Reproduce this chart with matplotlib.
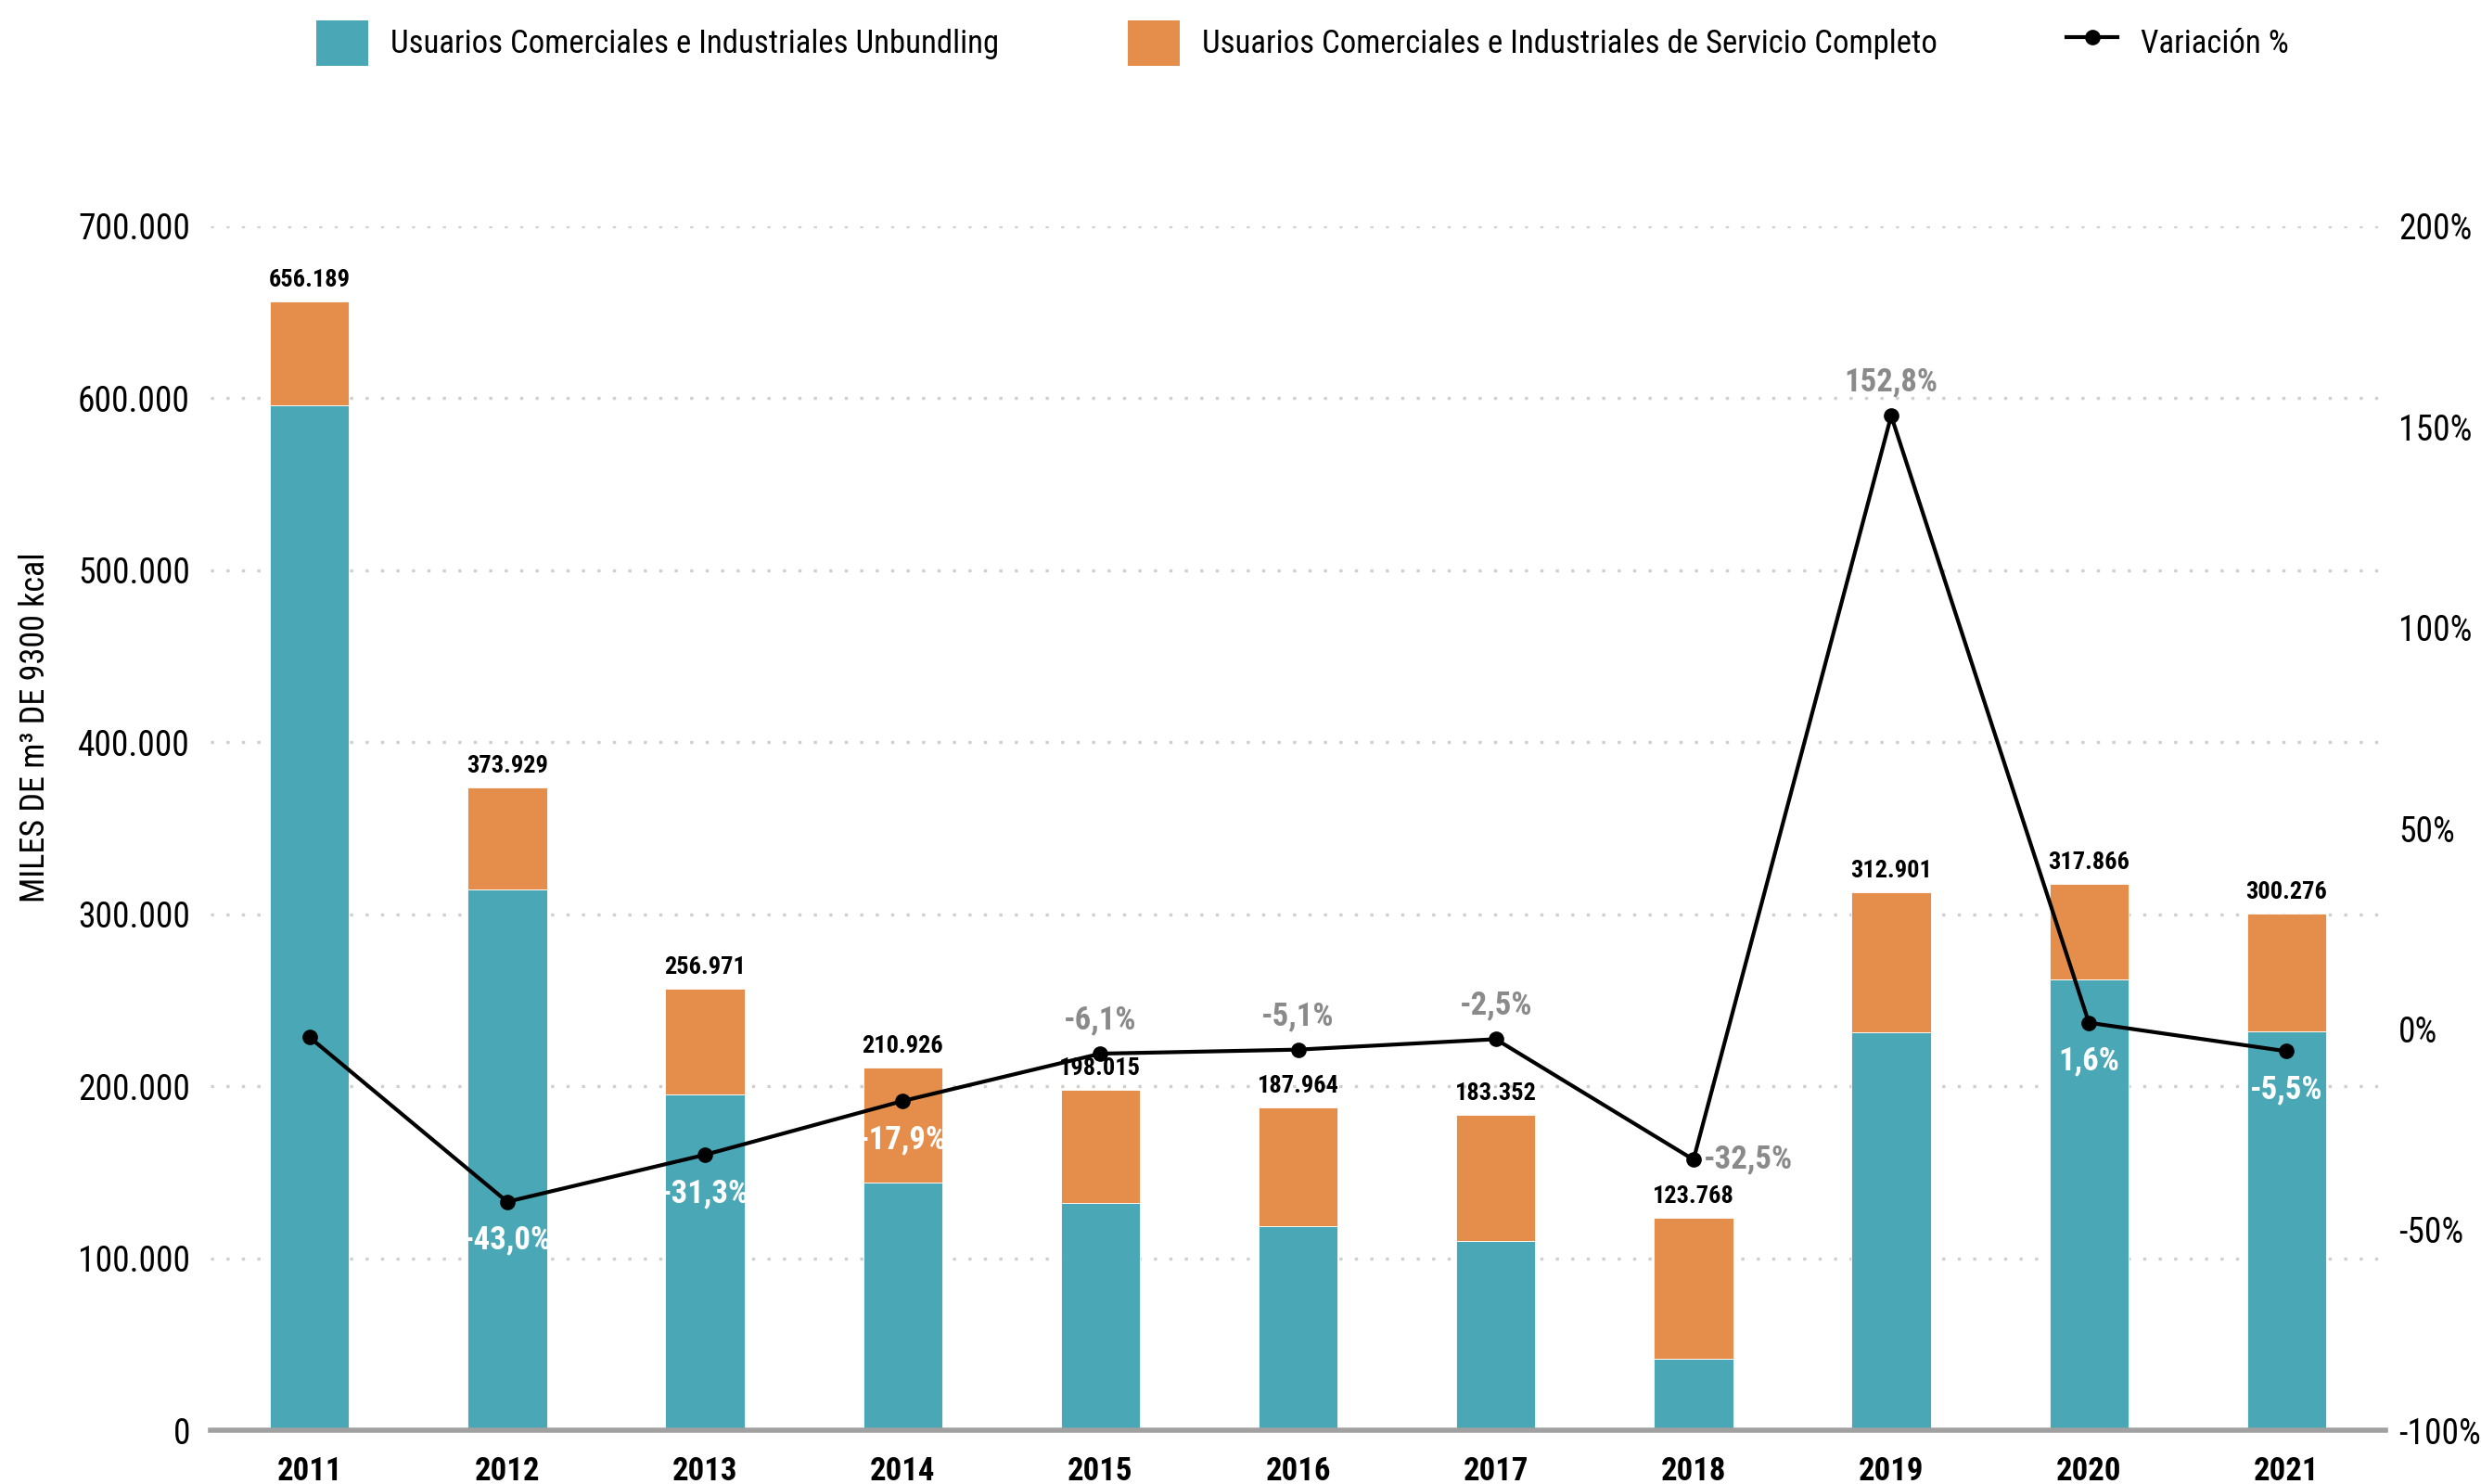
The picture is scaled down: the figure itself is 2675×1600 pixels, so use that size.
import matplotlib.pyplot as plt
from matplotlib.lines import Line2D
from matplotlib.patches import Patch

plt.rcParams["font.family"] = ["Roboto Condensed", "Roboto", "DejaVu Sans"]

years = ["2011", "2012", "2013", "2014", "2015", "2016", "2017", "2018", "2019", "2020", "2021"]
totals = [656189, 373929, 256971, 210926, 198015, 187964, 183352, 123768, 312901, 317866, 300276]
unbundling = [595800, 314600, 195600, 144300, 132400, 118700, 110400, 41900, 231300, 262500, 232200]
variacion = [-2.0, -43.0, -31.3, -17.9, -6.1, -5.1, -2.5, -32.5, 152.8, 1.6, -5.5]
# where each % label sits: "below" (white), "above" (gray), "right" (gray), None
label_pos = [None, "below", "below", "below", "above", "above", "above", "right", "above", "below", "below"]

completo = [t - u for t, u in zip(totals, unbundling)]

teal = "#4AA8B6"
orange = "#E58D4A"
gray_lbl = "#8a8a8a"


def miles(v):
    return f"{int(v):,}".replace(",", ".")


def pct(v):
    return f"{v:.1f}%".replace(".", ",")


fig = plt.figure(figsize=(13.375, 8), dpi=200)
ax = fig.add_axes([0.0849, 0.036, 0.8766, 0.8115])
x = list(range(len(years)))

ax.bar(x, unbundling, width=0.4, color=teal, edgecolor="white", linewidth=0.3, zorder=2)
ax.bar(x, completo, width=0.4, bottom=unbundling, color=orange, edgecolor="white", linewidth=0.3, zorder=2)

for xi, t in zip(x, totals):
    ax.annotate(miles(t), (xi, t), xytext=(0, 4), textcoords="offset points",
                ha="center", va="bottom", fontsize=9.5, fontweight="bold", color="black")

ax.set_xlim(-0.5, 10.5)
ax.set_ylim(0, 700000)
ax.set_yticks(range(0, 700001, 100000))
ax.set_yticklabels([miles(v) for v in range(0, 700001, 100000)], fontsize=13.5)
ax.set_xticks(x)
ax.set_xticklabels(years, fontsize=12.5, fontweight="bold")
ax.tick_params(axis="both", length=0)
ax.tick_params(axis="y", pad=8)
ax.tick_params(axis="x", pad=10)
ax.grid(axis="y", linestyle=(0, (1, 4)), color="#cfcfcf", linewidth=1.2, zorder=0)
for s in ["top", "right", "left"]:
    ax.spines[s].set_visible(False)
ax.spines["bottom"].set_color("#a0a0a0")
ax.spines["bottom"].set_linewidth(2.0)
ax.spines["bottom"].set_zorder(3)

ax2 = ax.twinx()
ax2.plot(x, variacion, color="black", linewidth=1.5, marker="o", markersize=5, zorder=4)
ax2.set_ylim(-100, 200)
ax2.set_yticks(range(-100, 201, 50))
ax2.set_yticklabels([f"{v}%" for v in range(-100, 201, 50)], fontsize=13.5)
ax2.tick_params(axis="y", length=0, pad=5)
for s in ["top", "right", "left", "bottom"]:
    ax2.spines[s].set_visible(False)

for xi, v, pos in zip(x, variacion, label_pos):
    if pos == "below":
        ax2.annotate(pct(v), (xi, v), xytext=(0, -15), textcoords="offset points",
                     ha="center", va="center", fontsize=12.5, fontweight="bold", color="white", zorder=5)
    elif pos == "above":
        ax2.annotate(pct(v), (xi, v), xytext=(0, 13), textcoords="offset points",
                     ha="center", va="center", fontsize=12.5, fontweight="bold", color=gray_lbl, zorder=5)
    elif pos == "right":
        ax2.annotate(pct(v), (xi, v), xytext=(4, 0), textcoords="offset points",
                     ha="left", va="center", fontsize=12.5, fontweight="bold", color=gray_lbl, zorder=5)

fig.text(0.0075, 0.51, "MILES DE m³ DE 9300 kcal", rotation=90, ha="left", va="center", fontsize=13)

handles = [
    Patch(facecolor=teal, label="Usuarios Comerciales e Industriales Unbundling"),
    Patch(facecolor=orange, label="Usuarios Comerciales e Industriales de Servicio Completo"),
    Line2D([0], [0], color="black", linewidth=1.5, marker="o", markersize=5, label="Variación %"),
]
fig.legend(handles=handles, loc="upper center", bbox_to_anchor=(0.525, 1.006), ncol=3,
           frameon=False, fontsize=12.5, handlelength=1.6, handleheight=1.8,
           columnspacing=4.0, handletextpad=0.7)

fig.savefig("out.png", dpi=200)
